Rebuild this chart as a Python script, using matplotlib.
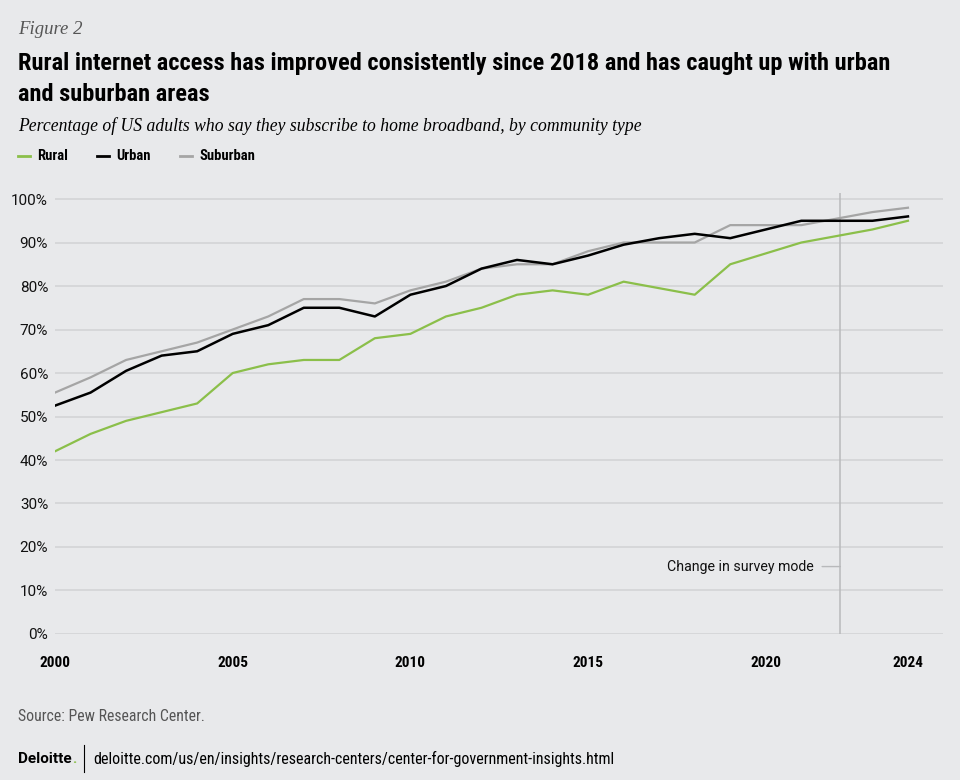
import matplotlib
matplotlib.use("Agg")
import matplotlib.pyplot as plt
from matplotlib import font_manager

# ---- data ----
years = list(range(2000, 2025))
rural = [42, 46, 49, 51, 53, 60, 62, 63, 63, 68, 69, 73, 75, 78, 79, 78, 81, 79.5, 78, 85, 87.5, 90, 91.5, 93, 95]
urban = [52.5, 55.5, 60.5, 64, 65, 69, 71, 75, 75, 73, 78, 80, 84, 86, 85, 87, 89.5, 91, 92, 91, 93, 95, 95, 95, 96]
suburban = [55.5, 59, 63, 65, 67, 70, 73, 77, 77, 76, 79, 81, 84, 85, 85, 88, 90, 90, 90, 94, 94, 94, 95.5, 97, 98]
xticks = [2000, 2005, 2010, 2015, 2020, 2024]
yticks = list(range(0, 101, 10))
survey_change = 2022.1

# ---- fonts ----
fl = font_manager.fontManager.ttflist
names = {f.name for f in fl}
cond = None
for cand in ["Roboto Condensed", "Liberation Sans Narrow", "DejaVu Sans Condensed", "Open Sans Condensed"]:
    if cand in names:
        cond = cand
        break
if cond is None:
    cond = "Roboto"
sans = "Roboto" if "Roboto" in names else "DejaVu Sans"
serif = "Liberation Serif" if "Liberation Serif" in names else "DejaVu Serif"
heavy = 900 if any(f.name == cond and f.weight in (800, 900, "black", "heavy") for f in fl) else "bold"

BG = "#e8e9eb"
GREEN = "#8bbf4a"
BLACK = "#000000"
GREY = "#a5a5a5"
GRID = "#d3d4d6"

fig = plt.figure(figsize=(9.6, 7.8), dpi=100, facecolor=BG)
ax = fig.add_axes([0.0573, 0.1872, 0.9255, 0.566])
ax.set_facecolor(BG)

ax.plot(years, suburban, color=GREY, lw=1.6, zorder=3)
ax.plot(years, rural, color=GREEN, lw=1.6, zorder=3)
ax.plot(years, urban, color=BLACK, lw=1.8, zorder=4)

ax.set_xlim(2000, 2025)
ax.set_ylim(0, 101.5)
ax.set_yticks(yticks)
ax.set_yticklabels([f"{v}%" for v in yticks], fontsize=11, family=sans, color="#111111")
ax.set_xticks(xticks)
ax.set_xticklabels([str(v) for v in xticks], fontsize=11, family=cond, fontweight="bold")
ax.tick_params(axis="both", length=0)
ax.tick_params(axis="y", pad=5)
ax.tick_params(axis="x", pad=16)
for s in ax.spines.values():
    s.set_visible(False)
ax.grid(axis="y", color=GRID, lw=1.2, zorder=0)
ax.set_axisbelow(True)

ax.axvline(survey_change, color="#b8b9bb", lw=1.1, zorder=2)
ax.annotate("Change in survey mode", xy=(survey_change, 15.5), xytext=(survey_change - 0.75, 15.5),
            ha="right", va="center", fontsize=10.2, family=sans, color="#111111",
            arrowprops=dict(arrowstyle="-", color="#b8b9bb", lw=1.0, shrinkA=4, shrinkB=0))

# ---- texts ----
fig.text(0.019, 0.962, "Figure 2", family=serif, style="italic", fontsize=13.5, color="#555555", va="center")
fig.text(0.019, 0.918, "Rural internet access has improved consistently since 2018 and has caught up with urban",
         family=cond, fontweight=heavy, fontsize=17.6, color="black", va="center")
fig.text(0.019, 0.879, "and suburban areas", family=cond, fontweight=heavy, fontsize=17.6, color="black", va="center")
fig.text(0.019, 0.838, "Percentage of US adults who say they subscribe to home broadband, by community type",
         family=serif, style="italic", fontsize=12.7, color="black", va="center")

# legend
ly = 0.8
for x0, col, lab in [(0.019, GREEN, "Rural"), (0.101, BLACK, "Urban"), (0.1875, GREY, "Suburban")]:
    fig.add_artist(plt.Line2D([x0, x0 + 0.0125], [ly, ly], color=col, lw=2, transform=fig.transFigure))
    fig.text(x0 + 0.02, ly, lab, family=cond, fontweight="bold", fontsize=10.5, color="black", va="center")

fig.text(0.019, 0.081, "Source: Pew Research Center.", family=cond, fontsize=11.3, color="#555555", va="center")
dt = fig.text(0.019, 0.027, "Deloitte", family=sans, fontweight=heavy, fontsize=11, color="black", va="center")
fig.canvas.draw()
bb = dt.get_window_extent()
fig.text(bb.x1 / fig.bbox.width, 0.027, ".", family=sans, fontweight=heavy, fontsize=11, color=GREEN, va="center")
fig.add_artist(plt.Line2D([0.0875, 0.0875], [0.01, 0.045], color="black", lw=0.8, transform=fig.transFigure))
fig.text(0.097, 0.027, "deloitte.com/us/en/insights/research-centers/center-for-government-insights.html",
         family=cond, fontsize=11.5, color="black", va="center")

fig.savefig("out.png", dpi=100, facecolor=BG)
